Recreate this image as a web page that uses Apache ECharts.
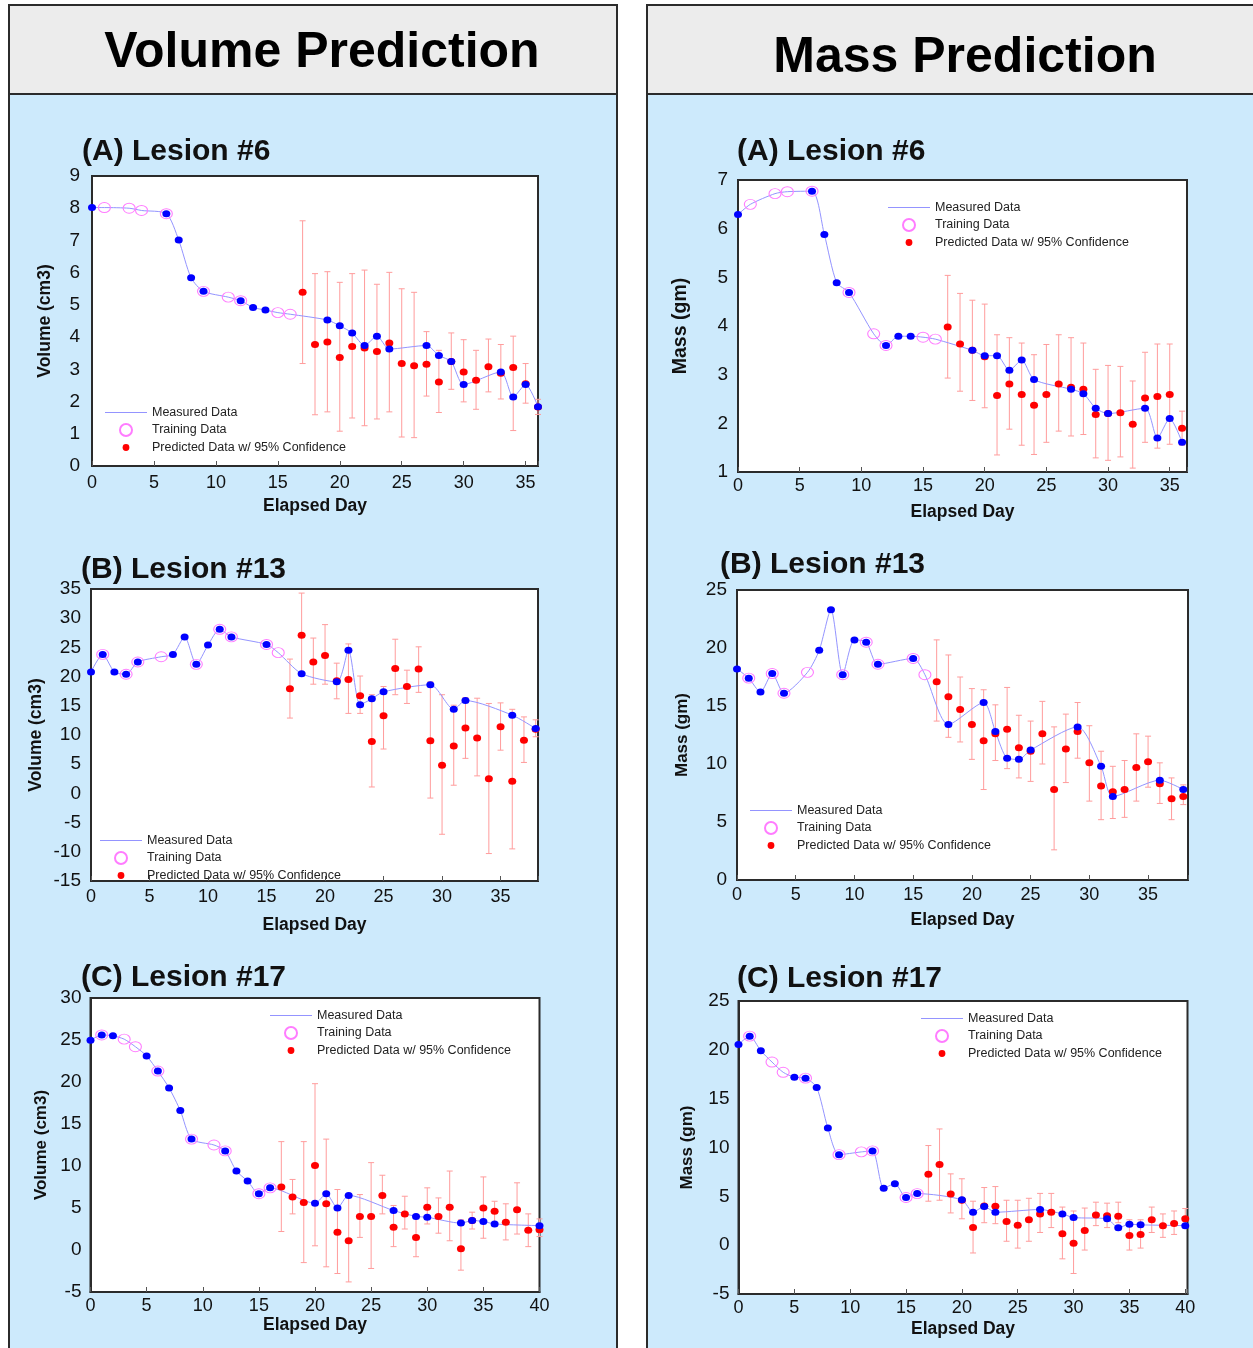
<!DOCTYPE html>
<html>
<head>
<meta charset="utf-8">
<title>Volume and Mass Prediction</title>
<script src="https://cdn.jsdelivr.net/npm/echarts@6/dist/echarts.min.js"></script>
<style>
  html, body { margin: 0; padding: 0; background: #ffffff; }
  #chart { width: 1253px; height: 1348px; }
</style>
</head>
<body>
<div id="chart"></div>
<script>
// ---------------- Lesion #6 : volume (cm3) ----------------
const volA_measDay = [0,1,3,4,6,7,8,9,11,12,13,14,15,16,19,20,21,22,23,24,27,28,29,30,33,34,35,36];
const volA_meas    = [8.02,8.02,8.00,7.93,7.83,7.01,5.84,5.42,5.24,5.13,4.92,4.84,4.76,4.71,4.53,4.35,4.13,3.74,4.03,3.63,3.74,3.43,3.24,2.53,2.92,2.14,2.53,1.84];
const volA_train   = [1,3,4,6,9,11,12,15,16];
const volA_mark    = [0,6,7,8,9,12,13,14,19,20,21,22,23,24,27,28,29,30,33,34,35,36];
const volA_predDay = [17,18,19,20,21,22,23,24,25,26,27,28,29,30,31,32,33,34,35,36];
const volA_pred    = [5.39,3.77,3.85,3.37,3.71,3.66,3.55,3.82,3.18,3.11,3.16,2.61,3.24,2.92,2.66,3.08,2.88,3.06,2.55,1.83];
const volA_lo      = [3.18,1.59,1.68,1.08,1.49,1.25,1.46,1.68,0.90,0.88,2.17,1.66,2.38,1.99,1.76,2.30,2.08,1.10,1.95,1.60];
const volA_hi      = [7.61,5.97,6.03,5.70,5.97,6.08,5.64,6.01,5.50,5.39,4.17,3.59,4.13,3.92,3.59,3.94,3.77,4.03,3.18,2.07];

// ---------------- Lesion #6 : mass (gm) ----------------
const massA_measDay = [0,1,3,4,6,7,8,9,11,12,13,14,15,16,19,20,21,22,23,24,27,28,29,30,33,34,35,36];
const massA_meas    = [6.29,6.50,6.72,6.76,6.77,5.88,4.89,4.69,3.84,3.60,3.79,3.79,3.77,3.73,3.50,3.39,3.39,3.09,3.30,2.90,2.70,2.61,2.31,2.20,2.31,1.70,2.10,1.61];
const massA_train   = [1,3,4,6,9,11,12,15,16];
const massA_mark    = [0,6,7,8,9,12,13,14,19,20,21,22,23,24,27,28,29,30,33,34,35,36];
const massA_predDay = [17,18,19,20,21,22,23,24,25,26,27,28,29,30,31,32,33,34,35,36];
const massA_pred    = [3.98,3.63,3.50,3.37,2.57,2.81,2.59,2.37,2.59,2.81,2.74,2.70,2.18,2.20,2.22,1.98,2.52,2.55,2.59,1.90];
const massA_lo      = [2.93,2.66,2.47,2.32,1.35,1.88,1.55,1.36,1.61,1.84,1.74,1.77,1.29,1.24,1.31,1.08,1.61,1.49,1.57,1.55];
const massA_hi      = [5.04,4.67,4.53,4.45,3.82,3.76,3.65,3.41,3.62,3.82,3.76,3.65,3.11,3.19,3.17,2.87,3.46,3.63,3.63,2.25];

// ---------------- Lesion #13 : volume (cm3) ----------------
const volB_measDay = [0,1,2,3,4,6,7,8,9,10,11,12,15,16,18,21,22,23,24,25,29,31,32,36,38];
const volB_meas    = [20.8,23.8,20.8,20.4,22.5,23.4,23.8,26.8,22.1,25.4,28.1,26.8,25.5,24.1,20.5,19.1,24.5,15.2,16.2,17.4,18.6,14.4,15.9,13.4,11.1];
const volB_train   = [1,3,4,6,9,11,12,15,16];
const volB_mark    = [0,1,2,3,4,7,8,9,10,11,12,15,18,21,22,23,24,25,29,31,32,36,38];
const volB_predDay = [17,18,19,20,21,22,23,24,25,26,27,28,29,30,31,32,33,34,35,36,37,38];
const volB_pred    = [17.9,27.1,22.5,23.6,19.3,19.5,16.7,8.9,13.3,21.4,18.3,21.3,9.0,4.8,8.1,11.2,9.5,2.5,11.4,2.1,9.1,11.0];
const volB_lo      = [12.9,20.6,18.7,18.7,16.2,13.7,13.7,1.1,7.6,16.9,15.4,17.3,-0.8,-7.0,1.4,6.0,3.0,-10.3,7.4,-9.5,5.3,9.7];
const volB_hi      = [23.0,34.3,26.6,28.9,22.3,25.6,20.1,16.9,18.3,26.4,21.1,25.1,19.1,16.9,15.1,16.4,16.3,15.4,15.5,14.4,13.1,12.6];

// ---------------- Lesion #13 : mass (gm) ----------------
const massB_measDay = [0,1,2,3,4,6,7,8,9,10,11,12,15,16,18,21,22,23,24,25,29,31,32,36,38];
const massB_meas    = [18.2,17.4,16.2,17.8,16.1,17.9,19.8,23.3,17.7,20.7,20.5,18.6,19.1,17.7,13.4,15.3,12.8,10.5,10.4,11.2,13.2,9.8,7.2,8.6,7.8];
const massB_train   = [1,3,4,6,9,11,12,15,16];
const massB_mark    = [0,1,2,3,4,7,8,9,10,11,12,15,18,21,22,23,24,25,29,31,32,36,38];
const massB_predDay = [17,18,19,20,21,22,23,24,25,26,27,28,29,30,31,32,33,34,35,36,37,38];
const massB_pred    = [17.1,15.8,14.7,13.4,12.0,12.6,13.0,11.4,11.1,12.6,7.8,11.3,12.8,10.1,8.1,7.6,7.8,9.7,10.2,8.3,7.0,7.2];
const massB_lo      = [13.7,12.3,11.9,10.4,7.8,10.3,9.6,8.8,8.5,10.0,2.6,8.4,10.5,6.8,5.2,5.3,5.4,6.8,8.0,6.6,5.2,6.5];
const massB_hi      = [20.7,19.4,17.5,16.5,16.4,15.1,16.6,14.2,13.7,15.4,13.2,14.3,15.3,13.3,11.1,9.8,10.3,12.6,12.4,10.1,8.8,8.2];

// ---------------- Lesion #17 : volume (cm3) ----------------
const volC_measDay = [0,1,2,3,4,5,6,7,8,9,11,12,13,14,15,16,20,21,22,23,27,29,30,33,34,35,36,40];
const volC_meas    = [24.96,25.6,25.5,25.1,24.2,23.1,21.3,19.3,16.6,13.2,12.5,11.8,9.4,8.2,6.7,7.4,5.57,6.7,5.0,6.5,4.7,4.0,3.9,3.2,3.5,3.4,3.1,2.9];
const volC_train   = [1,3,4,6,9,11,12,15,16];
const volC_mark    = [0,1,2,5,6,7,8,9,12,13,14,15,16,20,21,22,23,27,29,30,33,34,35,36,40];
const volC_predDay = [17,18,19,20,21,22,23,24,25,26,27,28,29,30,31,32,33,34,35,36,37,38,39,40];
const volC_pred    = [7.5,6.3,5.65,10.07,5.5,2.1,1.1,4.0,4.0,6.5,2.7,4.3,1.5,5.1,4.0,5.1,0.15,3.5,5.0,4.6,3.3,4.8,2.35,2.4];
const volC_lo      = [2.2,4.3,-1.5,0.5,-2.0,-2.8,-3.8,1.5,-2.2,4.3,0.4,2.5,-0.8,3.1,2.0,1.1,-2.4,2.5,1.4,3.3,1.2,1.9,0.4,1.6];
const volC_hi      = [12.9,8.4,12.9,19.8,13.2,7.2,6.6,6.6,10.4,8.9,5.3,6.4,4.0,7.4,6.2,9.4,3.6,4.5,8.7,5.8,5.5,8.0,4.3,3.7];

// ---------------- Lesion #17 : mass (gm) ----------------
const massC_measDay = [0,1,2,3,4,5,6,7,8,9,11,12,13,14,15,16,20,21,22,23,27,29,30,33,34,35,36,40];
const massC_meas    = [20.55,21.4,19.9,18.75,17.7,17.2,17.1,16.15,12.0,9.27,9.55,9.65,5.83,6.3,4.88,5.28,4.64,3.37,3.96,3.37,3.65,3.2,2.83,2.7,1.78,2.15,2.08,2.0];
const massC_train   = [1,3,4,6,9,11,12,15,16];
const massC_mark    = [0,1,2,5,6,7,8,9,12,13,14,15,16,20,21,22,23,27,29,30,33,34,35,36,40];
const massC_predDay = [17,18,19,20,21,22,23,24,25,26,27,28,29,30,31,32,33,34,35,36,37,38,39,40];
const massC_pred    = [7.26,8.25,5.25,4.6,1.81,4.0,3.99,2.42,2.04,2.6,3.2,3.37,1.16,0.2,1.5,3.1,3.0,2.97,0.99,1.09,2.6,1.98,2.22,2.7];
const massC_lo      = [4.5,4.6,3.3,2.7,-0.8,2.3,2.2,0.4,-0.3,0.4,1.3,1.8,-1.4,-2.9,-0.5,2.0,1.8,2.3,-0.5,-0.3,1.3,0.8,1.1,1.8];
const massC_hi      = [10.2,11.9,7.3,6.8,4.5,5.9,6.0,4.6,4.6,4.8,5.3,5.3,3.9,3.5,3.8,4.4,4.3,4.4,2.6,2.6,3.9,3.2,3.5,3.75];

// ---------------- text ----------------
const columnTitles = ['Volume Prediction', 'Mass Prediction'];
const panelTitles  = ['(A) Lesion #6', '(A) Lesion #6', '(B) Lesion #13', '(B) Lesion #13', '(C) Lesion #17', '(C) Lesion #17'];
const yNames       = ['Volume (cm3)', 'Mass (gm)', 'Volume (cm3)', 'Mass (gm)', 'Volume (cm3)', 'Mass (gm)'];
const xName        = 'Elapsed Day';
const legendNames  = ['Measured Data', 'Training Data', 'Predicted Data w/ 95% Confidence'];

// ---------------- layout of the six panels ----------------
const FONT = "'Liberation Sans', Arial, Helvetica, sans-serif";
const panels = [
  { d: [volA_measDay, volA_meas, volA_train, volA_mark, volA_predDay, volA_pred, volA_lo, volA_hi],
    box: [92, 176, 446, 290], xMax: 36, y: [0, 9, 1], yGap: 38, yFont: 17.5, yMargin: 12, xGap: 31, xMargin: 8,
    title: [82, 137], legend: [105, 406] },
  { d: [massA_measDay, massA_meas, massA_train, massA_mark, massA_predDay, massA_pred, massA_lo, massA_hi],
    box: [738, 180, 449, 292], xMax: 36.4, y: [1, 7, 1], yGap: 47, yFont: 19.5, yMargin: 10, xGap: 31, xMargin: 5,
    title: [737, 137], legend: [888, 201] },
  { d: [volB_measDay, volB_meas, volB_train, volB_mark, volB_predDay, volB_pred, volB_lo, volB_hi],
    box: [91, 589, 447, 292], xMax: 38.2, y: [-15, 35, 5], yGap: 46, yFont: 17.5, yMargin: 10, xGap: 35, xMargin: 7,
    title: [81, 555], legend: [100, 834] },
  { d: [massB_measDay, massB_meas, massB_train, massB_mark, massB_predDay, massB_pred, massB_lo, massB_hi],
    box: [737, 590, 451, 290], xMax: 38.4, y: [0, 25, 5], yGap: 46, yFont: 17, yMargin: 10, xGap: 31, xMargin: 6,
    title: [720, 550], legend: [750, 804] },
  { d: [volC_measDay, volC_meas, volC_train, volC_mark, volC_predDay, volC_pred, volC_lo, volC_hi],
    box: [90.5, 998, 449, 294], xMax: 40, y: [-5, 30, 5], yGap: 41, yFont: 17, yMargin: 9, xGap: 22, xMargin: 5,
    title: [81, 963], legend: [270, 1009] },
  { d: [massC_measDay, massC_meas, massC_train, massC_mark, massC_predDay, massC_pred, massC_lo, massC_hi],
    box: [738.5, 1001, 449, 293], xMax: 40.2, y: [-5, 25, 5], yGap: 43, yFont: 17, yMargin: 9, xGap: 26, xMargin: 5,
    title: [737, 964], legend: [921, 1012] }
];

const FRAME = '#2b2b2b';
const LINE_BLUE = '#9494ff';
const DOT_BLUE = '#0000ff';
const DOT_RED = '#ff0000';
const RING_PINK = '#ff7cff';
const BAR_RED = '#ff9c9c';
// legend glyphs drawn inside a fixed box so they keep their own size
const LEGEND_LINE = 'path://M0,0M42,12M0,5.5L42,5.5L42,6.5L0,6.5Z';
const SMALL_DOT = 'path://M0,0M12,12M6,2.6A3.4,3.4,0,1,1,6,9.4A3.4,3.4,0,1,1,6,2.6Z';

function pairs(xs, ys) { return xs.map((x, k) => [x, ys[k]]); }
function pick(days, measDay, meas) { return days.map(d => [d, meas[measDay.indexOf(d)]]); }

function renderErrorBar(params, api) {
  const x = api.value(0);
  const lo = api.coord([x, api.value(1)]);
  const hi = api.coord([x, api.value(2)]);
  const cap = 3;
  const style = { stroke: BAR_RED, lineWidth: 1 };
  return {
    type: 'group',
    children: [
      { type: 'line', shape: { x1: lo[0], y1: lo[1], x2: hi[0], y2: hi[1] }, style },
      { type: 'line', shape: { x1: lo[0] - cap, y1: lo[1], x2: lo[0] + cap, y2: lo[1] }, style },
      { type: 'line', shape: { x1: hi[0] - cap, y1: hi[1], x2: hi[0] + cap, y2: hi[1] }, style }
    ]
  };
}

const grids = [], xAxes = [], yAxes = [], series = [], legends = [], titles = [];

panels.forEach((p, i) => {
  const [measDay, meas, train, mark, predDay, pred, lo, hi] = p.d;
  grids.push({
    left: p.box[0], top: p.box[1], width: p.box[2], height: p.box[3],
    show: true, backgroundColor: '#ffffff', borderColor: FRAME, borderWidth: 2
  });
  xAxes.push({
    type: 'value', gridIndex: i, min: 0, max: p.xMax, interval: 5,
    axisLine: { show: true, onZero: false, lineStyle: { color: FRAME, width: 2 } },
    axisTick: { show: true, inside: true, length: 5, lineStyle: { color: '#555' } },
    axisLabel: { fontSize: 18, color: '#111', fontFamily: FONT, margin: p.xMargin,
                 formatter: v => (Math.abs(v % 5) < 1e-9 ? String(v) : '') },
    splitLine: { show: false },
    name: xName, nameLocation: 'middle', nameGap: p.xGap,
    nameTextStyle: { fontSize: 17.5, fontWeight: 'bold', color: '#111', fontFamily: FONT }
  });
  yAxes.push({
    type: 'value', gridIndex: i, min: p.y[0], max: p.y[1], interval: p.y[2],
    axisLine: { show: true, onZero: false, lineStyle: { color: FRAME, width: 2 } },
    axisTick: { show: false },
    axisLabel: { fontSize: 19, color: '#111', fontFamily: FONT, margin: p.yMargin },
    splitLine: { show: false },
    name: yNames[i], nameLocation: 'middle', nameGap: p.yGap,
    nameTextStyle: { fontSize: p.yFont, fontWeight: 'bold', color: '#111', fontFamily: FONT }
  });

  series.push({
    type: 'custom', name: 'Confidence Interval', xAxisIndex: i, yAxisIndex: i,
    data: predDay.map((d, k) => [d, lo[k], hi[k]]),
    encode: { x: 0, y: [1, 2] }, renderItem: renderErrorBar, z: 1, silent: true
  });
  series.push({
    type: 'line', name: legendNames[0], xAxisIndex: i, yAxisIndex: i,
    data: pairs(measDay, meas), symbol: 'none', showSymbol: false, smooth: 0.25,
    lineStyle: { color: LINE_BLUE, width: 1 }, itemStyle: { color: LINE_BLUE }, z: 2, silent: true
  });
  series.push({
    type: 'scatter', name: legendNames[1], xAxisIndex: i, yAxisIndex: i,
    data: pick(train, measDay, meas), symbol: 'circle', symbolSize: [12, 10],
    itemStyle: { color: 'rgba(255,255,255,0)', borderColor: RING_PINK, borderWidth: 1, opacity: 1 }, z: 3, silent: true
  });
  series.push({
    type: 'scatter', name: legendNames[2], xAxisIndex: i, yAxisIndex: i,
    data: pairs(predDay, pred), symbol: 'circle', symbolSize: [8, 7],
    itemStyle: { color: DOT_RED, opacity: 1 }, z: 4, silent: true
  });
  series.push({
    type: 'scatter', name: 'Measured Points', xAxisIndex: i, yAxisIndex: i,
    data: pick(mark, measDay, meas), symbol: 'circle', symbolSize: [8, 7],
    itemStyle: { color: DOT_BLUE, opacity: 1 }, z: 5, silent: true
  });

  legends.push({
    left: p.legend[0], top: p.legend[1], orient: 'vertical', padding: 0, itemGap: 4,
    itemWidth: 42, itemHeight: 12, selectedMode: false,
    textStyle: { fontSize: 12.5, color: '#222', fontFamily: FONT },
    data: [
      { name: legendNames[0], icon: LEGEND_LINE, itemStyle: { color: LINE_BLUE, borderWidth: 0 } },
      { name: legendNames[1] },
      { name: legendNames[2], icon: SMALL_DOT }
    ]
  });

  titles.push({
    text: panelTitles[i], left: p.title[0], top: p.title[1], padding: 0,
    textStyle: { fontSize: 30, fontWeight: 'bold', color: '#111', fontFamily: FONT }
  });
});

// column frames and headings
const graphic = [
  { type: 'rect', z: -10, shape: { x: 9, y: 5, width: 608, height: 1360 },
    style: { fill: '#cdeafc', stroke: FRAME, lineWidth: 2 } },
  { type: 'rect', z: -9, shape: { x: 9, y: 5, width: 608, height: 89 },
    style: { fill: '#ececec', stroke: FRAME, lineWidth: 2 } },
  { type: 'rect', z: -10, shape: { x: 647, y: 5, width: 620, height: 1360 },
    style: { fill: '#cdeafc', stroke: FRAME, lineWidth: 2 } },
  { type: 'rect', z: -9, shape: { x: 647, y: 5, width: 620, height: 89 },
    style: { fill: '#ececec', stroke: FRAME, lineWidth: 2 } },
  { type: 'text', z: -8, x: 322, y: 53,
    style: { text: columnTitles[0], fill: '#000', font: "bold 50px " + FONT, textAlign: 'center', textVerticalAlign: 'middle' } },
  { type: 'text', z: -8, x: 965, y: 58,
    style: { text: columnTitles[1], fill: '#000', font: "bold 50px " + FONT, textAlign: 'center', textVerticalAlign: 'middle' } }
];

const chart = echarts.init(document.getElementById('chart'), null, { renderer: 'canvas' });
chart.setOption({
  animation: false,
  backgroundColor: '#ffffff',
  graphic: graphic,
  title: titles,
  legend: legends,
  grid: grids,
  xAxis: xAxes,
  yAxis: yAxes,
  series: series
});
</script>
</body>
</html>
